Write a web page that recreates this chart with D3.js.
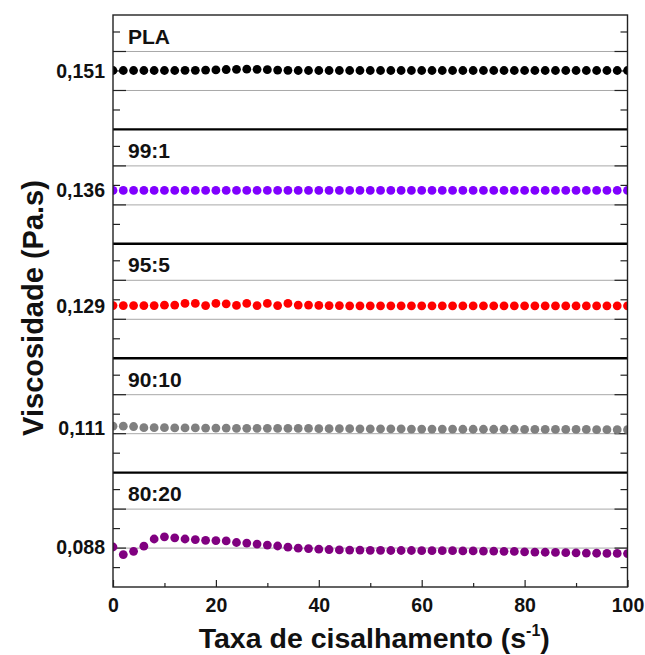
<!DOCTYPE html>
<html>
<head>
<meta charset="utf-8">
<script src="https://cdn.jsdelivr.net/npm/d3@7"></script>
<style>
  html, body { margin: 0; padding: 0; background: #fff; }
  svg { display: block; font-family: "Liberation Sans", Arial, Helvetica, sans-serif; }
</style>
</head>
<body>
<svg id="chart" width="645" height="655"></svg>
<script>
// Shear rate (s^-1) at which each viscosity reading was taken
const shearRate = [0, 2, 4, 6, 8, 10, 12, 14, 16, 18, 20, 22, 24, 26, 28, 30, 32, 34, 36, 38,
  40, 42, 44, 46, 48, 50, 52, 54, 56, 58, 60, 62, 64, 66, 68, 70, 72, 74, 76, 78,
  80, 82, 84, 86, 88, 90, 92, 94, 96, 98, 100];

// Viscosity (Pa.s) for each blend
const viscPLA = [0.15100, 0.15100, 0.15100, 0.15100, 0.15100, 0.15100, 0.15100, 0.15101, 0.15101, 0.15102,
  0.15103, 0.15105, 0.15106, 0.15107, 0.15106, 0.15104, 0.15102, 0.15101, 0.15100, 0.15100,
  0.15100, 0.15100, 0.15100, 0.15100, 0.15100, 0.15100, 0.15100, 0.15100, 0.15100, 0.15100,
  0.15100, 0.15100, 0.15100, 0.15100, 0.15100, 0.15100, 0.15100, 0.15100, 0.15100, 0.15100,
  0.15100, 0.15100, 0.15100, 0.15100, 0.15100, 0.15100, 0.15100, 0.15100, 0.15100, 0.15100, 0.15100];
const visc99_1 = [0.13600, 0.13600, 0.13600, 0.13600, 0.13600, 0.13600, 0.13600, 0.13600, 0.13600, 0.13600,
  0.13600, 0.13600, 0.13600, 0.13600, 0.13600, 0.13600, 0.13600, 0.13600, 0.13600, 0.13600,
  0.13600, 0.13600, 0.13600, 0.13600, 0.13600, 0.13600, 0.13600, 0.13600, 0.13600, 0.13600,
  0.13600, 0.13600, 0.13600, 0.13600, 0.13600, 0.13600, 0.13600, 0.13600, 0.13600, 0.13600,
  0.13600, 0.13600, 0.13600, 0.13600, 0.13600, 0.13600, 0.13600, 0.13600, 0.13600, 0.13600, 0.13600];
const visc95_5 = [0.12901, 0.12901, 0.12901, 0.12901, 0.12901, 0.12903, 0.12904, 0.12912, 0.12912, 0.12901,
  0.12912, 0.12910, 0.12902, 0.12912, 0.12901, 0.12912, 0.12901, 0.12912, 0.12904, 0.12904,
  0.12902, 0.12901, 0.12901, 0.12900, 0.12900, 0.12900, 0.12900, 0.12900, 0.12900, 0.12900,
  0.12900, 0.12900, 0.12900, 0.12900, 0.12900, 0.12900, 0.12900, 0.12900, 0.12900, 0.12900,
  0.12900, 0.12900, 0.12900, 0.12900, 0.12900, 0.12900, 0.12900, 0.12900, 0.12900, 0.12900, 0.12900];
const visc90_10 = [0.11108, 0.11108, 0.11106, 0.11100, 0.11100, 0.11100, 0.11099, 0.11099, 0.11099, 0.11098,
  0.11098, 0.11098, 0.11097, 0.11097, 0.11097, 0.11097, 0.11096, 0.11096, 0.11096, 0.11096,
  0.11095, 0.11095, 0.11095, 0.11095, 0.11094, 0.11094, 0.11094, 0.11094, 0.11094, 0.11093,
  0.11093, 0.11093, 0.11093, 0.11093, 0.11092, 0.11092, 0.11092, 0.11092, 0.11092, 0.11092,
  0.11091, 0.11091, 0.11091, 0.11091, 0.11091, 0.11091, 0.11091, 0.11090, 0.11090, 0.11090, 0.11090];
const visc80_20 = [0.08798, 0.08759, 0.08776, 0.08802, 0.08839, 0.08850, 0.08845, 0.08839, 0.08836, 0.08832,
  0.08831, 0.08829, 0.08821, 0.08818, 0.08813, 0.08808, 0.08803, 0.08797, 0.08792, 0.08790,
  0.08787, 0.08785, 0.08783, 0.08782, 0.08782, 0.08781, 0.08781, 0.08780, 0.08780, 0.08780,
  0.08779, 0.08779, 0.08779, 0.08779, 0.08778, 0.08778, 0.08777, 0.08777, 0.08776, 0.08775,
  0.08773, 0.08772, 0.08771, 0.08770, 0.08769, 0.08768, 0.08767, 0.08766, 0.08765, 0.08765, 0.08764];

const seriesNames = ["PLA", "99:1", "95:5", "90:10", "80:20"];
const seriesValues = [viscPLA, visc99_1, visc95_5, visc90_10, visc80_20];
const seriesColors = ["#000000", "#8000ff", "#ff0000", "#808080", "#800080"];
const levelLabels = ["0,151", "0,136", "0,129", "0,111", "0,088"];
const levelValues = [0.151, 0.136, 0.129, 0.111, 0.088];

// Upper bound of each layer's viscosity axis; every layer spans the same range
const layerMax = [0.153846, 0.139128, 0.132180, 0.114564, 0.091795];
const layerSpan = 0.005867;
const layerStep = 0.001;
const layerFirstTick = 0.000846;   // distance from the top bound to the first tick

const xTicks = [0, 20, 40, 60, 80, 100];
const xMinorTicks = [10, 30, 50, 70, 90];

const svg = d3.select("#chart");
const W = 645, H = 655;
const margin = { left: 113, right: 17.5, top: 15, bottom: 68 };
const plotW = W - margin.left - margin.right;
const plotH = H - margin.top - margin.bottom;
const layerH = plotH / seriesNames.length;

const x = d3.scaleLinear().domain([0, 100]).range([0, plotW]);

const g = svg.append("g").attr("transform", `translate(${margin.left},${margin.top})`);

g.append("defs").append("clipPath").attr("id", "plotClip")
  .append("rect").attr("x", 0).attr("y", 0).attr("width", plotW).attr("height", plotH);

const boldFont = "bold";

seriesNames.forEach((name, i) => {
  const top = i * layerH;
  const y = d3.scaleLinear()
    .domain([layerMax[i] - layerSpan, layerMax[i]])
    .range([top + layerH, top]);

  const ticks = [0, 1, 2, 3, 4].map(k => layerMax[i] - layerFirstTick - k * layerStep);
  const major = [ticks[1], ticks[3]];
  const minor = [ticks[0], ticks[2], ticks[4]];

  // light horizontal grid lines
  g.append("g")
    .attr("class", "grid")
    .call(d3.axisLeft(y).tickValues(major).tickSize(-plotW).tickFormat(""))
    .call(s => s.select(".domain").remove())
    .call(s => s.selectAll("line").attr("stroke", "#a8a8a8").attr("stroke-width", 1));

  // inward ticks on both sides
  const tickStyle = s => {
    s.select(".domain").remove();
    s.selectAll("line").attr("stroke", "#222").attr("stroke-width", 1.2);
  };
  g.append("g").call(d3.axisLeft(y).tickValues(major).tickSize(-13).tickFormat("")).call(tickStyle);
  g.append("g").call(d3.axisLeft(y).tickValues(minor).tickSize(-7).tickFormat("")).call(tickStyle);
  g.append("g").attr("transform", `translate(${plotW},0)`)
    .call(d3.axisRight(y).tickValues(major).tickSize(-13).tickFormat("")).call(tickStyle);
  g.append("g").attr("transform", `translate(${plotW},0)`)
    .call(d3.axisRight(y).tickValues(minor).tickSize(-7).tickFormat("")).call(tickStyle);

  // data points
  g.append("g").attr("clip-path", "url(#plotClip)")
    .selectAll("circle")
    .data(shearRate.map((s, j) => [s, seriesValues[i][j]]))
    .join("circle")
    .attr("cx", d => x(d[0]))
    .attr("cy", d => y(d[1]))
    .attr("r", 4.4)
    .attr("fill", seriesColors[i]);

  // blend name
  g.append("text")
    .attr("x", 15)
    .attr("y", top + 28.5)
    .attr("font-size", 21)
    .attr("font-weight", boldFont)
    .attr("fill", "#111")
    .text(name);

  // viscosity level at the left
  g.append("text")
    .attr("x", -8)
    .attr("y", y(levelValues[i]))
    .attr("dy", "0.36em")
    .attr("text-anchor", "end")
    .attr("font-size", 19.5)
    .attr("font-weight", boldFont)
    .attr("fill", "#111")
    .text(levelLabels[i]);

  // layer separator
  if (i > 0) {
    g.append("line")
      .attr("x1", 0).attr("x2", plotW)
      .attr("y1", top).attr("y2", top)
      .attr("stroke", "#000").attr("stroke-width", 2.4);
  }
});

// frame
g.append("rect")
  .attr("x", 0).attr("y", 0).attr("width", plotW).attr("height", plotH)
  .attr("fill", "none").attr("stroke", "#222").attr("stroke-width", 1.4);

// bottom axis
const xAxis = g.append("g").attr("transform", `translate(0,${plotH})`)
  .call(d3.axisBottom(x).tickValues(xTicks).tickSize(-7).tickPadding(11).tickFormat(d3.format("d")));
xAxis.select(".domain").remove();
xAxis.selectAll("line").attr("stroke", "#222").attr("stroke-width", 1.2);
xAxis.selectAll("text")
  .attr("font-size", 19.5).attr("font-weight", boldFont).attr("fill", "#111")
  .attr("font-family", "Liberation Sans, Arial, sans-serif");
const xMinor = g.append("g").attr("transform", `translate(0,${plotH})`)
  .call(d3.axisBottom(x).tickValues(xMinorTicks).tickSize(-4).tickFormat(""));
xMinor.select(".domain").remove();
xMinor.selectAll("line").attr("stroke", "#222").attr("stroke-width", 1.2);

// axis titles
const xTitle = svg.append("text")
  .attr("x", margin.left + plotW / 2 + 4)
  .attr("y", 648)
  .attr("text-anchor", "middle")
  .attr("font-size", 28.5)
  .attr("font-weight", boldFont)
  .attr("fill", "#111");
xTitle.append("tspan").text("Taxa de cisalhamento (s");
xTitle.append("tspan").attr("font-size", 16).attr("dy", -12).text("-1");
xTitle.append("tspan").attr("dy", 12).text(")");

svg.append("text")
  .attr("transform", `translate(43,${margin.top + plotH / 2 + 7}) rotate(-90)`)
  .attr("text-anchor", "middle")
  .attr("font-size", 29)
  .attr("font-weight", boldFont)
  .attr("fill", "#111")
  .text("Viscosidade (Pa.s)");
</script>
</body>
</html>
